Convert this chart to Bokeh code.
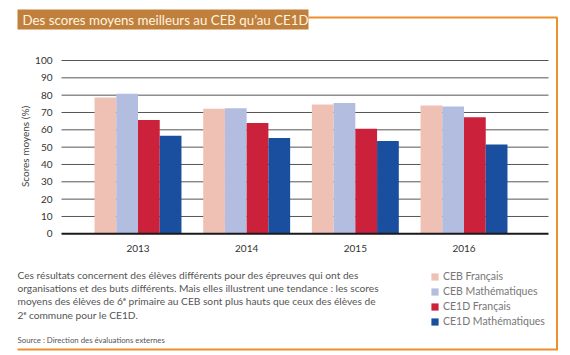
from math import pi
from bokeh.plotting import figure
from bokeh.models import Range1d, Legend, LegendItem, ColumnDataSource
from bokeh.core.properties import value
from bokeh.embed import file_html
from bokeh.resources import INLINE

# ---------------- data ----------------
years = ["2013", "2014", "2015", "2016"]
series = ["CEB Français", "CEB Mathématiques", "CE1D Français", "CE1D Mathématiques"]
ceb_fr = [78.7, 72.2, 74.6, 74.0]
ceb_math = [80.8, 72.4, 75.5, 73.4]
ce1d_fr = [65.6, 64.0, 60.6, 67.3]
ce1d_math = [56.6, 55.3, 53.5, 51.6]
y_ticks = [0, 10, 20, 30, 40, 50, 60, 70, 80, 90, 100]
y_tick_labels = ["0", "10", "20", "30", "40", "50", "60", "70", "80", "90", "100"]

title_text = "Des scores moyens meilleurs au CEB qu\u2019au CE1D"
y_label = "Scores moyens (%)"
note_lines = [
    "Ces résultats concernent des élèves différents pour des épreuves qui ont des",
    "organisations et des buts différents. Mais elles illustrent une tendance : les scores",
    "moyens des élèves de 6\u1d49 primaire au CEB sont plus hauts que ceux des élèves de",
    "2\u1d49 commune pour le CE1D.",
]
source_text = "Source : Direction des évaluations externes"

# ---------------- layout / styles ----------------
W, H = 570, 355
FONT = value("Lato")
colors = ["#EFC1B4", "#B3BDE0", "#CC213A", "#1A4E9E"]
offsets = [-0.3, -0.1, 0.1, 0.3]
BAR_W = 0.2
GRID_X0, GRID_X1 = 61, 548          # plot area (pixels)
Y0_PX, Y100_PX = 233.3, 60.0        # pixel rows of value 0 and 100
G0_PX, G_STEP = 137.5, 108.67       # pixel centre of first group, group spacing
ORANGE = "#EE8E2C"

px_per_val = (Y0_PX - Y100_PX) / 100.0
val_range = Range1d(-(H - Y0_PX) / px_per_val, 100 + Y100_PX / px_per_val)
grp_range = Range1d(-G0_PX / G_STEP, (W - G0_PX) / G_STEP)

p = figure(width=W, height=H, output_backend="svg", toolbar_location=None,
           x_range=Range1d(0, W), y_range=Range1d(H, 0),
           x_axis_location=None, y_axis_location=None, title=None,
           min_border=0, min_border_left=0, min_border_right=0,
           min_border_top=0, min_border_bottom=0)
p.extra_x_ranges = {"grp": grp_range}
p.extra_y_ranges = {"val": val_range}
p.grid.visible = False
p.outline_line_color = None
p.background_fill_color = "white"
p.border_fill_color = "white"

# gridlines (value scale)
p.segment(x0=GRID_X0, x1=GRID_X1, y0=y_ticks[1:], y1=y_ticks[1:], y_range_name="val",
          line_color="#555555", line_width=1)

# bars
renderers = []
for vals, col, off in zip([ceb_fr, ceb_math, ce1d_fr, ce1d_math], colors, offsets):
    src = ColumnDataSource(dict(x=[i + off for i in range(len(years))], top=vals))
    r = p.vbar(x="x", top="top", bottom=0, width=BAR_W, source=src,
               x_range_name="grp", y_range_name="val",
               fill_color=col, line_color=None)
    renderers.append(r)

# baseline at 0
p.segment(x0=GRID_X0, x1=GRID_X1, y0=[0], y1=[0], y_range_name="val",
          line_color="#1a1a1a", line_width=2)

# y tick labels
p.text(x=52, y=y_ticks, text=y_tick_labels, y_range_name="val",
       text_font=FONT, text_font_size="10px", text_color="#333333",
       text_align="right", text_baseline="middle")
# x tick labels
p.text(x=list(range(len(years))), y=248, text=years, x_range_name="grp",
       text_font=FONT, text_font_size="10px", text_color="#333333",
       text_align="center", text_baseline="middle")
# y axis label
p.text(x=[24], y=[146], text=[y_label], angle=pi / 2,
       text_font=FONT, text_font_size="10px", text_color="#444444",
       text_align="center", text_baseline="middle")

# title box
p.quad(left=[17], right=[308], top=[9], bottom=[29], fill_color="#C0803B", line_color=None)
p.text(x=[22], y=[19.5], text=[title_text], text_font=FONT, text_font_size="13.3px",
       text_color="#FFF4E2", text_align="left", text_baseline="middle")

# orange frame lines
p.multi_line(xs=[[308, 556.5, 556.5], [17, 557.5]], ys=[[17, 17, 349], [349, 349]],
             line_color=ORANGE, line_width=2)

# note and source
p.text(x=[17] * len(note_lines), y=[274 + 13.35 * k for k in range(len(note_lines))],
       text=note_lines, text_font=FONT, text_font_size="10.2px", text_color="#555555",
       text_align="left", text_baseline="middle")
p.text(x=[17], y=[339], text=[source_text], text_font=FONT, text_font_size="7.8px",
       text_color="#555555", text_align="left", text_baseline="middle")

# legend
legend = Legend(items=[LegendItem(label=s, renderers=[r]) for s, r in zip(series, renderers)],
                location=(430, 28), orientation="vertical",
                glyph_width=9, glyph_height=9, label_height=9,
                label_text_font="Lato", label_text_font_size="10.5px",
                label_text_color="#777777", label_standoff=4, spacing=3,
                padding=0, margin=0, border_line_color=None,
                background_fill_alpha=0)
p.add_layout(legend)

open("out.html", "w").write(file_html(p, INLINE))
